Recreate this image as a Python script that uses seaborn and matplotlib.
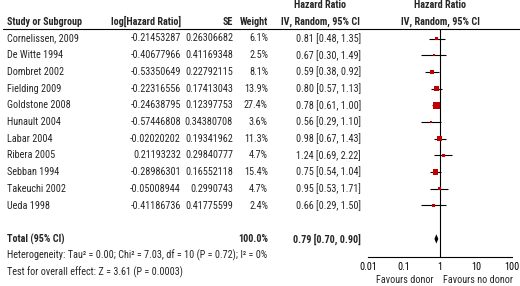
import numpy as np
import seaborn as sns
import matplotlib
matplotlib.use('Agg')
import matplotlib.pyplot as plt
from matplotlib import font_manager
from matplotlib.ticker import NullLocator

# datos del forest plot
studies = ["Cornelissen, 2009", "De Witte 1994", "Dombret 2002", "Fielding 2009",
           "Goldstone 2008", "Hunault 2004", "Labar 2004", "Ribera 2005",
           "Sebban 1994", "Takeuchi 2002", "Ueda 1998"]
log_hr = [-0.21453287, -0.40677966, -0.53350649, -0.22316556, -0.24638795,
          -0.57446808, -0.02020202, 0.21193232, -0.28986301, -0.05008944, -0.41186736]
se = [0.26306682, 0.41169348, 0.22792115, 0.17413043, 0.12397753, 0.34380708,
      0.19341962, 0.29840777, 0.16552118, 0.2990743, 0.41775599]
weight = [6.1, 2.5, 8.1, 13.9, 27.4, 3.6, 11.3, 4.7, 15.4, 4.7, 2.4]
hr = [0.81, 0.67, 0.59, 0.80, 0.78, 0.56, 0.98, 1.24, 0.75, 0.95, 0.66]
lo = [0.48, 0.30, 0.38, 0.57, 0.61, 0.29, 0.67, 0.69, 0.54, 0.53, 0.29]
hi = [1.35, 1.49, 0.92, 1.13, 1.00, 1.10, 1.43, 2.22, 1.04, 1.71, 1.50]
total = [0.79, 0.70, 0.90]
total_weight = "100.0%"
ticks = [0.01, 0.1, 1, 10, 100]
tick_labels = ["0.01", "0.1", "1", "10", "100"]
het_text = "Heterogeneity: Tau\u00b2 = 0.00; Chi\u00b2 = 7.03, df = 10 (P = 0.72); I\u00b2 = 0%"
test_text = "Test for overall effect: Z = 3.61 (P = 0.0003)"

sns.set_style('white')
names = {f.name for f in font_manager.fontManager.ttflist}
fam = next((n for n in ['Liberation Sans Narrow', 'Arial Narrow', 'Roboto Condensed']
            if n in names), 'Liberation Sans')
plt.rcParams['font.family'] = [fam, 'DejaVu Sans']
fs = 7.3 if fam != 'Liberation Sans' else 6.5

fig = plt.figure(figsize=(5.2, 2.86), dpi=100)

# ejes de texto: x en pixeles, y en indice de fila
tx = fig.add_axes([0, 0, 1, 1])
tx.set_xlim(0, 520)
tx.set_ylim(14.82, -2.305)
tx.axis('off')

rows = np.arange(len(studies))

# encabezados
hb = dict(fontsize=fs, fontweight='bold', va='center')
tx.text(7, -1, "Study or Subgroup", ha='left', **hb)
tx.text(181, -1, "log[Hazard Ratio]", ha='right', **hb)
tx.text(233, -1, "SE", ha='right', **hb)
tx.text(268, -1, "Weight", ha='right', **hb)
tx.text(320, -2, "Hazard Ratio", ha='center', **hb)
tx.text(320, -1, "IV, Random, 95% CI", ha='center', **hb)
tx.text(440, -2, "Hazard Ratio", ha='center', **hb)
tx.text(440, -1, "IV, Random, 95% CI", ha='center', **hb)
tx.axhline(-0.569, xmin=3 / 520, xmax=1, color='black', lw=0.8)

# filas
for i in rows:
    tx.text(7, i, studies[i], ha='left', va='center', fontsize=fs)
    tx.text(181, i, str(log_hr[i]), ha='right', va='center', fontsize=fs)
    tx.text(233, i, str(se[i]), ha='right', va='center', fontsize=fs)
    tx.text(268, i, f"{weight[i]:.1f}%", ha='right', va='center', fontsize=fs)
    tx.text(361, i, f"{hr[i]:.2f} [{lo[i]:.2f}, {hi[i]:.2f}]", ha='right', va='center', fontsize=fs)

tx.text(7, 12, "Total (95% CI)", ha='left', **hb)
tx.text(268, 12, total_weight, ha='right', **hb)
tx.text(361, 12, f"{total[0]:.2f} [{total[1]:.2f}, {total[2]:.2f}]", ha='right', **hb)
tx.text(7, 13, het_text, ha='left', va='center', fontsize=fs)
tx.text(7, 14, test_text, ha='left', va='center', fontsize=fs)
tx.text(434, 14.45, "Favours donor", ha='right', va='center', fontsize=fs)
tx.text(443, 14.45, "Favours no donor", ha='left', va='center', fontsize=fs)

# forest plot
ax = fig.add_axes([368 / 520, 29 / 286, 144 / 520, 228 / 286])
ax.set_xscale('log')
ax.hlines(rows, lo, hi, color='black', lw=0.8)
sns.scatterplot(x=hr, y=rows, size=weight, sizes=(3, 26), size_norm=(2.4, 27.4),
                marker='s', color='#c00000', linewidth=0, legend=False, ax=ax, zorder=3)
ax.fill([total[1], total[0], total[2], total[0]], [12, 11.72, 12, 12.28], color='black', lw=0)
ax.axvline(1, color='black', lw=0.8)
ax.set_xlim(0.01, 100)
ax.set_ylim(13.084, -0.569)
ax.set_xticks(ticks)
ax.set_xticklabels(tick_labels, fontsize=fs)
ax.xaxis.set_minor_locator(NullLocator())
ax.set_yticks([])
ax.tick_params(axis='x', direction='inout', length=6, width=0.8, pad=0.5, colors='black')
for s in ['top', 'right', 'left']:
    ax.spines[s].set_visible(False)
ax.spines['bottom'].set_color('black')
ax.spines['bottom'].set_linewidth(0.8)
ax.patch.set_alpha(0)
ax.set_xlabel('')
ax.set_ylabel('')

fig.savefig('out.png', dpi=100)
